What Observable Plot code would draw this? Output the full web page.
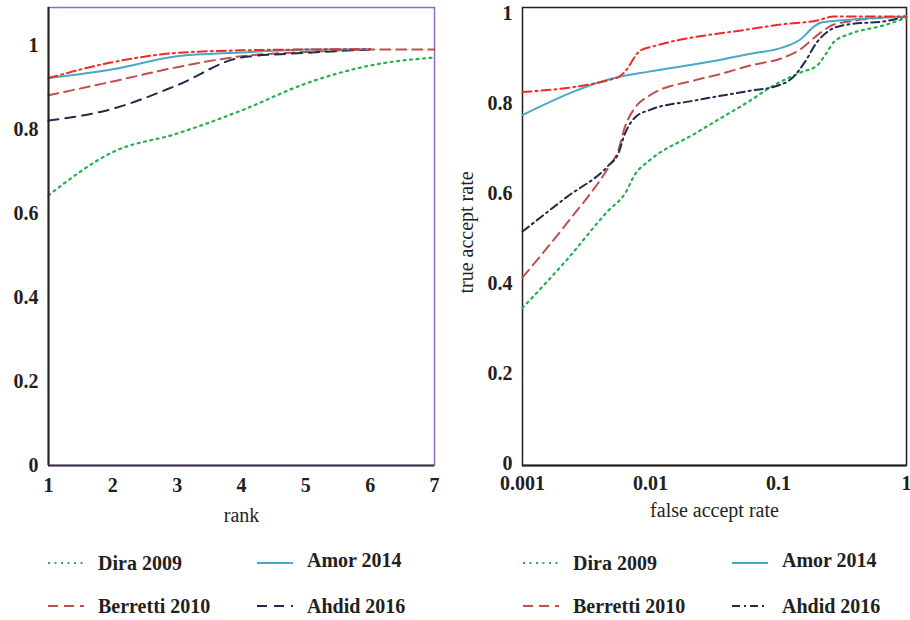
<!DOCTYPE html>
<html><head><meta charset="utf-8">
<script src="https://cdn.jsdelivr.net/npm/d3@7"></script>
<script src="https://cdn.jsdelivr.net/npm/@observablehq/plot@0.6"></script>
<style>
body{margin:0;background:#fff;width:910px;height:620px;position:relative;overflow:hidden;font-family:"Liberation Serif","Times New Roman",serif;}
#left{position:absolute;left:0;top:0}
#right{position:absolute;left:450px;top:0}
.leg{position:absolute;display:flex;align-items:center;font-weight:bold;font-size:20px;color:#231f20;white-space:nowrap;line-height:1}
.leg svg{margin-right:14px}
</style></head><body>
<div id="left"></div>
<div id="right"></div>
<div id="legends"></div>
<script>
// ---------- data ----------
const seriesNames = ["Dira 2009", "Amor 2014", "Berretti 2010", "Ahdid 2016", "Proposed"];
const rankTicks = [1, 2, 3, 4, 5, 6, 7];
const yTicks = [0, 0.2, 0.4, 0.6, 0.8, 1];
const farTicks = [0.001, 0.01, 0.1, 1];

// left: CMC (rank vs recognition rate)
const rankDira     = [1, 2, 3, 4, 5, 6, 7];
const cmcDira      = [0.643, 0.746, 0.790, 0.845, 0.909, 0.952, 0.971];
const rankAmor     = [1, 2, 3, 4, 5, 6];
const cmcAmor      = [0.922, 0.943, 0.974, 0.983, 0.990, 0.991];
const rankBerretti = [1, 2, 3, 4, 5, 6, 7];
const cmcBerretti  = [0.881, 0.914, 0.948, 0.974, 0.984, 0.990, 0.990];
const rankAhdid    = [1, 2, 3, 4, 5, 6];
const cmcAhdid     = [0.821, 0.849, 0.905, 0.971, 0.982, 0.990];
const rankOurs     = [1, 2, 3, 4, 5, 6];
const cmcOurs      = [0.922, 0.960, 0.982, 0.988, 0.990, 0.991];

// right: ROC (false accept rate vs true accept rate)
const farDira     = [0.001, 0.0022, 0.0047, 0.0063, 0.0076, 0.0098, 0.022, 0.033, 0.06, 0.087, 0.15, 0.2, 0.24, 0.27, 0.36, 0.66, 1];
const tarDira     = [0.350, 0.456, 0.567, 0.604, 0.648, 0.678, 0.737, 0.767, 0.811, 0.841, 0.874, 0.889, 0.919, 0.941, 0.959, 0.978, 0.995];
const farAmor     = [0.001, 0.0055, 0.01, 0.033, 0.06, 0.11, 0.15, 0.19, 0.22, 0.36, 1];
const tarAmor     = [0.779, 0.863, 0.876, 0.900, 0.915, 0.930, 0.948, 0.976, 0.985, 0.991, 0.998];
const farBerretti = [0.001, 0.0022, 0.0047, 0.0056, 0.0063, 0.0076, 0.0098, 0.022, 0.033, 0.06, 0.11, 0.15, 0.2, 0.26, 0.36, 1];
const tarBerretti = [0.418, 0.537, 0.663, 0.700, 0.752, 0.796, 0.822, 0.856, 0.868, 0.889, 0.907, 0.926, 0.956, 0.978, 0.987, 0.998];
const farAhdid    = [0.001, 0.0022, 0.0047, 0.0056, 0.0063, 0.0076, 0.0098, 0.022, 0.06, 0.098, 0.13, 0.16, 0.2, 0.26, 0.36, 0.66, 1];
const tarAhdid    = [0.520, 0.596, 0.667, 0.693, 0.737, 0.774, 0.790, 0.811, 0.833, 0.844, 0.863, 0.896, 0.941, 0.970, 0.981, 0.987, 0.998];
const farOurs     = [0.001, 0.0055, 0.0062, 0.0083, 0.011, 0.06, 0.11, 0.2, 0.27, 1];
const tarOurs     = [0.830, 0.862, 0.873, 0.922, 0.933, 0.970, 0.981, 0.989, 0.998, 0.998];

// ---------- styles ----------
const styleOf = {
  "Dira 2009":     {stroke: "#22b14c", dash: "2,4.5", width: 2.2},
  "Amor 2014":     {stroke: "#4aa8c6", dash: null, width: 2},
  "Berretti 2010": {stroke: "#c0504d", dash: "10,6", width: 2},
  "Ahdid 2016":    {stroke: "#1f2b48", dash: "10,7", width: 2},
  "Proposed":      {stroke: "#ee2a24", dash: "9,4,2,4", width: 2}
};
const rightDash = {"Ahdid 2016": "8,4,2,4"};

const zip = (xs, ys, name) => xs.map((x, i) => ({x, y: ys[i], series: name}));
const leftData = [
  zip(rankDira, cmcDira, "Dira 2009"),
  zip(rankBerretti, cmcBerretti, "Berretti 2010"),
  zip(rankAhdid, cmcAhdid, "Ahdid 2016"),
  zip(rankAmor, cmcAmor, "Amor 2014"),
  zip(rankOurs, cmcOurs, "Proposed")
];
const rightData = [
  zip(farDira, tarDira, "Dira 2009"),
  zip(farBerretti, tarBerretti, "Berretti 2010"),
  zip(farAhdid, tarAhdid, "Ahdid 2016"),
  zip(farAmor, tarAmor, "Amor 2014"),
  zip(farOurs, tarOurs, "Proposed")
];

const lineMarks = (sets, dashOverride) => sets.map(d => {
  const s = styleOf[d[0].series];
  return Plot.line(d, {x: "x", y: "y", stroke: s.stroke, strokeWidth: s.width,
    strokeDasharray: (dashOverride[d[0].series] || s.dash) || undefined, curve: "monotone-x"});
});

const baseStyle = {fontFamily: '"Liberation Serif", "Times New Roman", serif', fontSize: "20px", color: "#231f20", background: "transparent", overflow: "visible"};

const left = Plot.plot({
  width: 450, height: 530,
  marginLeft: 48, marginRight: 16, marginTop: 7, marginBottom: 65,
  style: baseStyle,
  x: {domain: [1, 7]},
  y: {domain: [0, 1.09]},
  marks: [
    Plot.frame({stroke: "#8f6cbf", strokeWidth: 1.5}),
    ...lineMarks(leftData, {}),
    Plot.ruleX([1], {stroke: "#231f20", strokeWidth: 2}),
    Plot.ruleY([0], {stroke: "#3b2f45", strokeWidth: 2}),
    Plot.axisY({ticks: yTicks, tickSize: 0, tickPadding: 10, tickFormat: d => String(d), label: null, fontWeight: "bold", fontSize: 20}),
    Plot.axisX({ticks: rankTicks, tickSize: 0, tickPadding: 12, tickFormat: d => String(d), label: null, fontWeight: "bold", fontSize: 20}),
    Plot.text(["rank"], {frameAnchor: "bottom", lineAnchor: "middle", dy: 50, fontSize: 20, text: d => d})
  ]
});
document.getElementById("left").appendChild(left);

const right = Plot.plot({
  width: 460, height: 530,
  marginLeft: 72, marginRight: 4, marginTop: 7, marginBottom: 65,
  style: baseStyle,
  x: {type: "log", domain: [0.001, 1]},
  y: {domain: [0, 1.018]},
  marks: [
    Plot.frame({stroke: "#231f20", strokeWidth: 1.5}),
    ...lineMarks(rightData, rightDash),
    Plot.ruleY([0], {stroke: "#231f20", strokeWidth: 2}),
    Plot.axisY({ticks: yTicks, tickSize: 0, tickPadding: 10, tickFormat: d => String(d), label: null, fontWeight: "bold", fontSize: 20, dy: -2}),
    Plot.axisX({ticks: farTicks, tickSize: 0, tickPadding: 10, tickFormat: d => String(d), label: null, fontWeight: "bold", fontSize: 20}),
    Plot.text(["false accept rate"], {frameAnchor: "bottom", lineAnchor: "middle", dy: 45, fontSize: 20, text: d => d}),
    Plot.text(["true accept rate"], {frameAnchor: "left", textAnchor: "middle", dx: -56, dy: -4, rotate: -90, fontSize: 20, text: d => d})
  ]
});
document.getElementById("right").appendChild(right);

// ---------- legends ----------
const legendItems = [
  {name: "Dira 2009", col: 0, row: 0},
  {name: "Amor 2014", col: 1, row: 0},
  {name: "Berretti 2010", col: 0, row: 1},
  {name: "Ahdid 2016", col: 1, row: 1}
];
const legendOrigins = [{x: 48, dash: {}}, {x: 523, dash: rightDash}];
const colX = [0, 209];
const rowY = [563, 606];
const host = document.getElementById("legends");
legendOrigins.forEach(o => {
  legendItems.forEach(it => {
    const s = styleOf[it.name];
    const dash = o.dash[it.name] || s.dash;
    const lift = it.name === "Amor 2014" ? 3 : 0;
    const div = document.createElement("div");
    div.className = "leg";
    div.style.left = (o.x + colX[it.col]) + "px";
    div.style.top = (rowY[it.row] - lift - 12) + "px";
    div.style.height = "24px";
    div.innerHTML = `<svg width="36" height="24"><line x1="0" x2="36" y1="${12 + lift}" y2="${12 + lift}" stroke="${s.stroke}" stroke-width="${s.width}" ${dash ? `stroke-dasharray="${dash}"` : ""}/></svg><span>${it.name}</span>`;
    host.appendChild(div);
  });
});
</script>
</body></html>
